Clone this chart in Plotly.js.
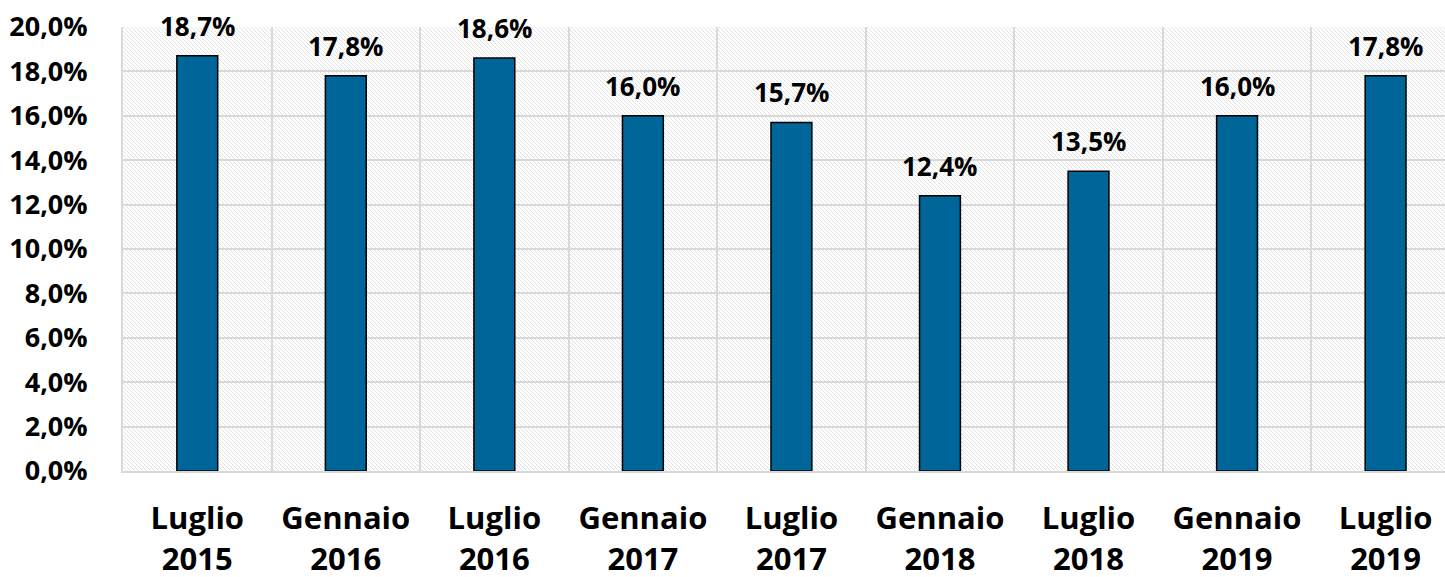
<!DOCTYPE html>
<html>
<head>
<meta charset="utf-8">
<script src="https://cdn.plot.ly/plotly-3.0.1.min.js"></script>
<style>
html,body{margin:0;padding:0;background:#ffffff;}
#chart{width:1445px;height:577px;}
</style>
</head>
<body>
<div id="chart"></div>
<script>
const categories = ["Luglio<br>2015","Gennaio<br>2016","Luglio<br>2016","Gennaio<br>2017","Luglio<br>2017","Gennaio<br>2018","Luglio<br>2018","Gennaio<br>2019","Luglio<br>2019"];
const values = [18.7, 17.8, 18.6, 16.0, 15.7, 12.4, 13.5, 16.0, 17.8];
const yTicks = [0, 2, 4, 6, 8, 10, 12, 14, 16, 18, 20];

const W = 1445, H = 577;
const margin = {l: 123, r: 0, t: 27, b: 106};
const pw = W - margin.l - margin.r, ph = H - margin.t - margin.b;

const hatchSvg = '<svg xmlns="http://www.w3.org/2000/svg" width="' + pw + '" height="' + ph + '">' +
  '<defs><pattern id="h" width="4" height="4" patternUnits="userSpaceOnUse">' +
  '<path d="M-1,-1 L5,5 M-1,3 L1,5 M3,-1 L5,1" stroke="#e2e2e2" stroke-width="1"/></pattern></defs>' +
  '<rect width="100%" height="100%" fill="#ffffff"/><rect width="100%" height="100%" fill="url(#h)"/></svg>';
const hatchUri = 'data:image/svg+xml;base64,' + btoa(hatchSvg);

const fmt = v => v.toFixed(1).replace('.', ',') + '%';
const FONT = '"Open Sans", Lato, sans-serif';

const trace = {
  type: 'bar',
  x: categories,
  y: values,
  width: 0.275,
  marker: {color: '#006699', line: {color: '#000000', width: 1.5}},
  hoverinfo: 'none'
};

const annotations = categories.map((c, i) => ({
  x: c, y: values[i], xref: 'x', yref: 'y',
  text: fmt(values[i]), showarrow: false,
  yanchor: 'bottom', xanchor: 'center', yshift: 10,
  font: {family: FONT, size: 26, color: '#000000', weight: 700}
}));

const layout = {
  width: W, height: H,
  margin: margin,
  paper_bgcolor: '#ffffff',
  plot_bgcolor: 'rgba(0,0,0,0)',
  separators: ',.',
  showlegend: false,
  images: [{
    source: hatchUri, xref: 'paper', yref: 'paper',
    x: 0, y: 1, sizex: 1, sizey: 1, xanchor: 'left', yanchor: 'top',
    sizing: 'stretch', layer: 'below'
  }],
  xaxis: {
    type: 'category',
    range: [-0.5, 8.4],
    tickson: 'boundaries',
    showgrid: true, gridcolor: '#d9d9d9', gridwidth: 2,
    showline: true, linecolor: '#d9d9d9', linewidth: 2,
    ticks: '', ticklabelstandoff: 19,
    tickfont: {family: FONT, size: 31, color: '#000000', weight: 700},
    fixedrange: true
  },
  yaxis: {
    range: [0, 20],
    tickvals: yTicks,
    ticktext: yTicks.map(fmt),
    showgrid: true, gridcolor: '#d9d9d9', gridwidth: 2,
    showline: true, linecolor: '#d9d9d9', linewidth: 2,
    zeroline: false,
    ticks: '', ticklabelstandoff: 28,
    tickfont: {family: FONT, size: 27, color: '#000000', weight: 700},
    fixedrange: true
  },
  annotations: annotations
};

Plotly.newPlot('chart', [trace], layout, {displayModeBar: false, staticPlot: true});
</script>
</body>
</html>
